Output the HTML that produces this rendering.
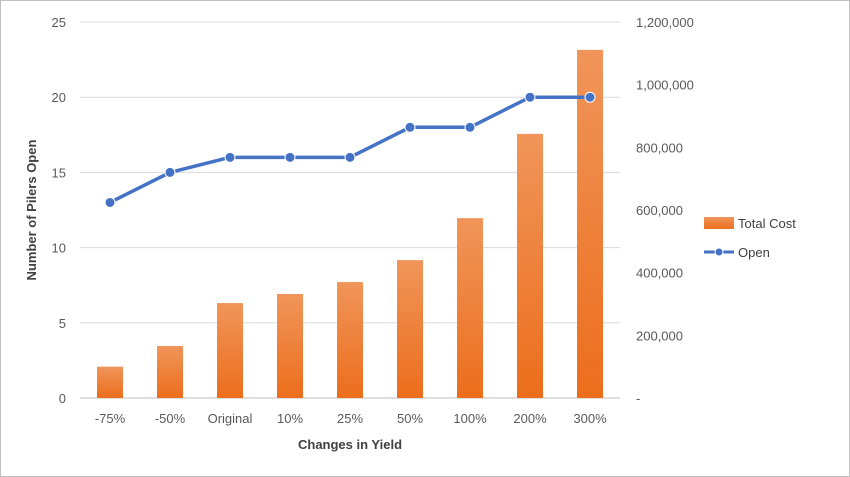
<!DOCTYPE html>
<html><head><meta charset="utf-8"><style>
body{margin:0;background:#fff}
svg{display:block;font-family:"Liberation Sans",sans-serif}
</style></head><body>
<svg id="chart" width="850" height="477">
<defs><linearGradient id="bg" x1="0" y1="0" x2="0" y2="1"><stop offset="0" stop-color="#f0955a"/><stop offset="1" stop-color="#ec6e1c"/></linearGradient></defs>
<rect x="0.5" y="0.5" width="849" height="476" fill="#fff" stroke="#bfbfbf"/>
<g id="grid"></g><g id="bars"></g><g id="line"></g><g id="axes"></g>
<text x="36" y="210" transform="rotate(-90 36 210)" text-anchor="middle" font-size="13" font-weight="bold" fill="#404040">Number of Pilers Open</text>
<text x="350" y="449" text-anchor="middle" font-size="13" font-weight="bold" fill="#404040">Changes in Yield</text>
<g>
<rect x="704" y="217" width="30" height="12" fill="url(#bg)"/>
<text x="738" y="228" font-size="13" fill="#404040">Total Cost</text>
<line x1="704" y1="252" x2="734" y2="252" stroke="#4472c4" stroke-width="3"/>
<circle cx="719" cy="252" r="4" fill="#4472c4" stroke="#fff" stroke-width="1"/>
<text x="738" y="257" font-size="13" fill="#404040">Open</text>
</g>
</svg>
<script>
const categories=["-75%","-50%","Original","10%","25%","50%","100%","200%","300%"];
const totalCost=[100000,166000,303000,332000,370000,440000,574000,843000,1111000];
const openCount=[13,15,16,16,16,18,18,20,20];
const leftTicks=[0,5,10,15,20,25];
const rightTicks=[0,200000,400000,600000,800000,1000000,1200000];
const NS="http://www.w3.org/2000/svg";
const X0=80,X1=620,Y0=398,Y1=22;
const step=(X1-X0)/categories.length;
const xc=i=>X0+step*(i+0.5);
const yl=v=>Y0-(v/25)*(Y0-Y1);
const yr=v=>Y0-(v/1200000)*(Y0-Y1);
function mk(t,a,p){const e=document.createElementNS(NS,t);for(const k in a)e.setAttribute(k,a[k]);p.appendChild(e);return e;}
const grid=document.getElementById('grid'),bars=document.getElementById('bars'),line=document.getElementById('line'),axes=document.getElementById('axes');
leftTicks.forEach(v=>{const g=mk('line',{x1:X0,x2:X1,y1:yl(v),y2:yl(v),stroke:v===0?'#bfbfbf':'#d9d9d9'},grid);


const t=mk('text',{x:66,y:yl(v)+5,'text-anchor':'end','font-size':13,fill:'#595959'},axes);t.textContent=v;

});
rightTicks.forEach(v=>{const t=mk('text',{x:636,y:yr(v)+5,'font-size':13,fill:'#595959'},axes);t.textContent=v===0?'-':v.toLocaleString('en-US');

});
categories.forEach((c,i)=>{const t=mk('text',{x:xc(i),y:423,'text-anchor':'middle','font-size':13,fill:'#595959'},axes);t.textContent=c;


const b=mk('rect',{x:xc(i)-13,y:yr(totalCost[i]),width:26,height:Y0-yr(totalCost[i]),fill:'url(#bg)'},bars);

});
const pl=mk('polyline',{points:openCount.map((v,i)=>xc(i)+','+yl(v)).join(' '),fill:'none',stroke:'#4472c4','stroke-width':3.5,'stroke-linejoin':'round'},line);


openCount.forEach((v,i)=>{const p=mk('circle',{cx:xc(i),cy:yl(v),r:5,fill:'#4472c4',stroke:'#fff','stroke-width':1},line);

});
</script>
</body></html>
